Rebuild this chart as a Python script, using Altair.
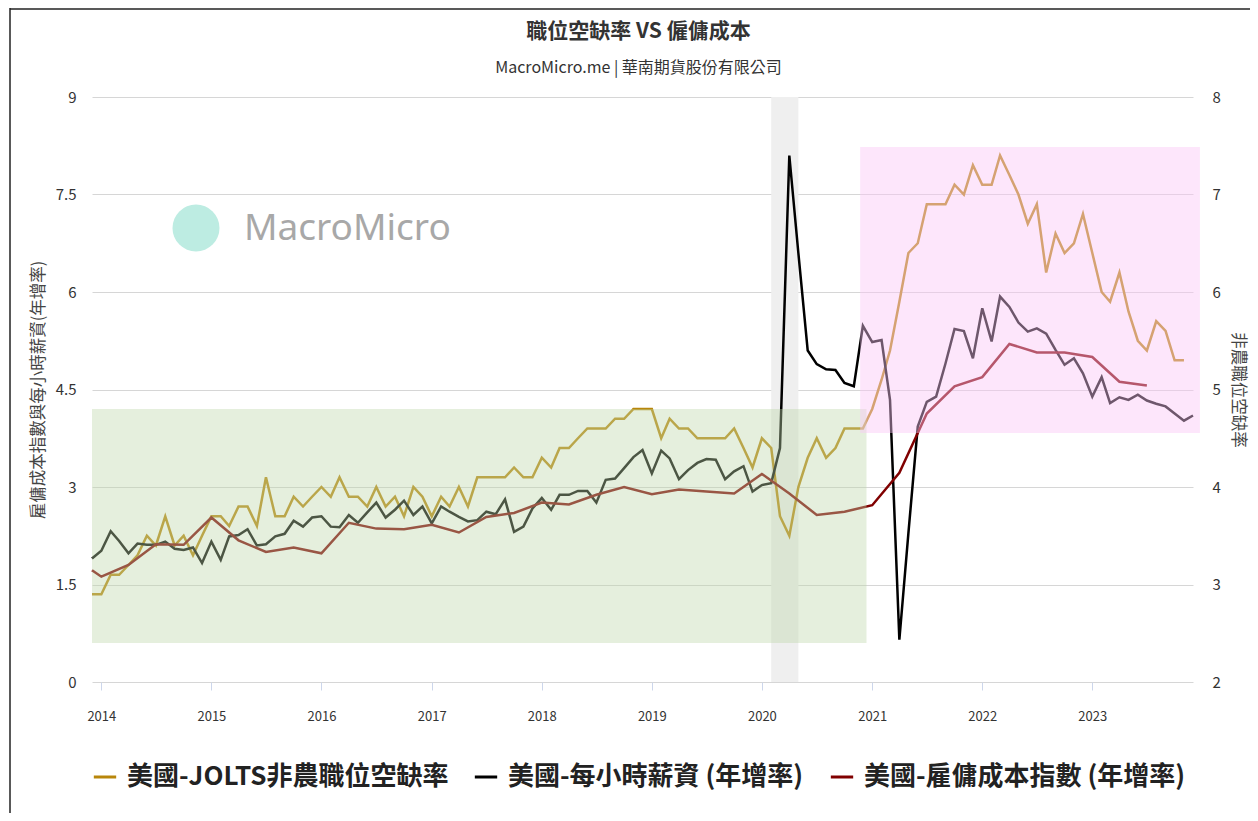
import altair as alt
import pandas as pd

FONT = "Noto Sans CJK TC"

# ---------------- data ----------------
MONTHS = pd.date_range("2013-12-01", periods=121, freq="MS").strftime("%Y-%m-%dT00:00:00").tolist()

# JOLTS job openings rate (right axis), Dec 2013 .. Nov 2023
JOLTS_RATE = [
    2.9, 2.9, 3.1, 3.1, 3.2, 3.3, 3.5, 3.4, 3.7, 3.4, 3.5, 3.3,
    3.5, 3.7, 3.7, 3.6, 3.8, 3.8, 3.6, 4.1, 3.7, 3.7, 3.9, 3.8,
    3.9, 4.0, 3.9, 4.1, 3.9, 3.9, 3.8, 4.0, 3.8, 3.9, 3.7, 4.0,
    3.9, 3.7, 3.9, 3.8, 4.0, 3.8, 4.1, 4.1, 4.1, 4.1, 4.2, 4.1,
    4.1, 4.3, 4.2, 4.4, 4.4, 4.5, 4.6, 4.6, 4.6, 4.7, 4.7, 4.8,
    4.8, 4.8, 4.5, 4.7, 4.6, 4.6, 4.5, 4.5, 4.5, 4.5, 4.6, 4.4,
    4.2, 4.5, 4.4, 3.7, 3.5, 4.0, 4.3, 4.5, 4.3, 4.4, 4.6, 4.6,
    4.6, 4.8, 5.1, 5.4, 5.9, 6.4, 6.5, 6.9, 6.9, 6.9, 7.1, 7.0,
    7.3, 7.1, 7.1, 7.4, 7.2, 7.0, 6.7, 6.9, 6.2, 6.6, 6.4, 6.5,
    6.8, 6.4, 6.0, 5.9, 6.2, 5.8, 5.5, 5.4, 5.7, 5.6, 5.3, 5.3,
]

# Average hourly earnings YoY (left axis), Dec 2013 .. Dec 2023
HOURLY_WAGE_YOY = [
    1.90, 2.02, 2.32, 2.17, 1.98, 2.13, 2.11, 2.11, 2.16, 2.05, 2.03, 2.07,
    1.83, 2.16, 1.88, 2.24, 2.26, 2.35, 2.10, 2.12, 2.24, 2.28, 2.48, 2.39,
    2.53, 2.55, 2.39, 2.38, 2.57, 2.45, 2.61, 2.76, 2.53, 2.65, 2.79, 2.57,
    2.70, 2.44, 2.70, 2.62, 2.54, 2.47, 2.49, 2.62, 2.58, 2.81, 2.31, 2.39,
    2.67, 2.83, 2.65, 2.88, 2.88, 2.94, 2.94, 2.76, 3.11, 3.13, 3.29, 3.46,
    3.57, 3.21, 3.56, 3.44, 3.12, 3.26, 3.37, 3.43, 3.42, 3.12, 3.24, 3.32,
    2.93, 3.03, 3.06, 3.60, 8.10, 6.60, 5.10, 4.89, 4.81, 4.80, 4.60, 4.55,
    5.48, 5.23, 5.26, 4.34, 0.65, 2.29, 3.93, 4.31, 4.39, 4.90, 5.43, 5.40,
    4.98, 5.75, 5.24, 5.93, 5.77, 5.53, 5.39, 5.44, 5.36, 5.11, 4.88, 4.98,
    4.75, 4.39, 4.69, 4.29, 4.38, 4.34, 4.42, 4.33, 4.28, 4.24, 4.13, 4.02,
    4.10,
]

# Employment cost index YoY (left axis), quarterly
ECI_DATES = [
    "2013-12-01", "2014-01-01", "2014-04-01", "2014-07-01", "2014-10-01",
    "2015-01-01", "2015-04-01", "2015-07-01", "2015-10-01",
    "2016-01-01", "2016-04-01", "2016-07-01", "2016-10-01",
    "2017-01-01", "2017-04-01", "2017-07-01", "2017-10-01",
    "2018-01-01", "2018-04-01", "2018-07-01", "2018-10-01",
    "2019-01-01", "2019-04-01", "2019-07-01", "2019-10-01",
    "2020-01-01", "2020-04-01", "2020-07-01", "2020-10-01",
    "2021-01-01", "2021-04-01", "2021-07-01", "2021-10-01",
    "2022-01-01", "2022-04-01", "2022-07-01", "2022-10-01",
    "2023-01-01", "2023-04-01", "2023-07-01",
]
ECI_YOY = [
    1.72, 1.62, 1.80, 2.12, 2.11,
    2.53, 2.18, 2.00, 2.07,
    1.98, 2.45, 2.36, 2.35,
    2.42, 2.30, 2.54, 2.60,
    2.76, 2.73, 2.88, 3.00,
    2.89, 2.96, 2.93, 2.90,
    3.20, 2.90, 2.57, 2.62,
    2.72, 3.22, 4.13, 4.55,
    4.69, 5.20, 5.07, 5.07,
    5.00, 4.62, 4.56,
]

SERIES = ["美國-JOLTS非農職位空缺率", "美國-每小時薪資 (年增率)", "美國-雇傭成本指數 (年增率)"]
COLORS = ["#b8860b", "#000000", "#800000"]

X_TICK_YEARS = list(range(2014, 2024))
LEFT_TICKS = [0, 1.5, 3, 4.5, 6, 7.5, 9]
RIGHT_TICKS = [2, 3, 4, 5, 6, 7, 8]

RECESSION_START = ["2020-02-01T00:00:00"]
RECESSION_END = ["2020-05-01T00:00:00"]

# highlighted zones (left-axis units)
GREEN_ZONE = {"x": ["2013-12-01T00:00:00"], "x2": ["2020-12-13T00:00:00"], "y": [0.6], "y2": [4.2]}
PINK_ZONE = {"x": ["2020-11-22T00:00:00"], "x2": ["2023-12-24T00:00:00"], "y": [3.83], "y2": [8.23]}

# ---------------- frames ----------------
def iso(d):
    return d + "T00:00:00"

jolts_df = pd.DataFrame({"date": MONTHS[:len(JOLTS_RATE)], "value": JOLTS_RATE, "series": SERIES[0]})
wage_df = pd.DataFrame({"date": MONTHS[:len(HOURLY_WAGE_YOY)], "value": HOURLY_WAGE_YOY, "series": SERIES[1]})
eci_df = pd.DataFrame({"date": [iso(d) for d in ECI_DATES], "value": ECI_YOY, "series": SERIES[2]})
left_df = pd.concat([wage_df, eci_df], ignore_index=True)

W, H = 1101, 585
PAD = {"left": 84, "top": 89, "right": 57, "bottom": 131}

XSCALE = alt.Scale(domain=[alt.DateTime(year=2013, month=12, date=1),
                           alt.DateTime(year=2023, month=12, date=1)])
XAXIS = alt.Axis(values=[alt.DateTime(year=y, month=1, date=1) for y in X_TICK_YEARS],
                 format="%Y", title=None, grid=False, domain=False, ticks=True,
                 tickSize=8, tickColor="#ccd6eb", labelFontSize=13, labelPadding=20,
                 labelColor="#333333", labelFont=FONT)

LSCALE = alt.Scale(domain=[0, 9], nice=False, zero=False)
RSCALE = alt.Scale(domain=[2, 8], nice=False, zero=False)

LAXIS = alt.Axis(orient="left", values=LEFT_TICKS, format=".1~f", grid=True, gridColor="#d6d6d6",
                 domain=False, ticks=False, labelPadding=16, labelFontSize=15, labelColor="#333333",
                 labelFont=FONT, title="雇傭成本指數與每小時薪資(年增率)", titleFontSize=16.5,
                 titleFontWeight="normal", titleColor="#444444", titleFont=FONT,
                 titleAngle=270, titleX=-54, titleY=H / 2, titleBaseline="middle", titleAlign="center")
RAXIS = alt.Axis(orient="right", values=RIGHT_TICKS, format="d", grid=False,
                 domain=False, ticks=False, labelPadding=19, labelFontSize=15, labelColor="#333333",
                 labelFont=FONT, title="非農職位空缺率", titleFontSize=16.5,
                 titleFontWeight="normal", titleColor="#444444", titleFont=FONT,
                 titleAngle=90, titleX=44, titleY=H / 2, titleBaseline="middle", titleAlign="center")

COLOR_SCALE = alt.Scale(domain=SERIES, range=COLORS)
LEGEND = alt.Legend(orient="none", legendX=0, legendY=667, direction="horizontal", columns=3,
                    title=None, symbolType="stroke", symbolSize=500, symbolStrokeWidth=3,
                    labelFontSize=26, labelFontWeight="bold", labelColor="#222222", labelFont=FONT,
                    labelLimit=0, labelOffset=9, columnPadding=20, padding=0)

one_row = pd.DataFrame({"k": [0]})


def xenc(field):
    return alt.X(field, type="temporal", scale=XSCALE, axis=XAXIS)


def lyenc(field):
    return alt.Y(field, type="quantitative", scale=LSCALE, axis=LAXIS)


band = alt.Chart(pd.DataFrame({"start": RECESSION_START, "end": RECESSION_END})).mark_rect(
    color="#efefef").encode(
    x=xenc("start"), x2="end:T",
    y=alt.value(0), y2=alt.value(H))

jolts = alt.Chart(jolts_df).mark_line(strokeWidth=2.5).encode(
    x=xenc("date"),
    y=alt.Y("value:Q", scale=RSCALE, axis=RAXIS),
    color=alt.Color("series:N", scale=COLOR_SCALE, legend=LEGEND))

wm_circle = alt.Chart(one_row).mark_point(shape="circle", filled=True, size=2210,
                                          color="#bdece2", opacity=1).encode(
    x=alt.value(104), y=alt.value(131))
wm_text = alt.Chart(one_row).mark_text(align="left", baseline="middle", fontSize=37,
                                       color="#a8a8a8", font="Noto Sans").encode(
    x=alt.value(152), y=alt.value(132), text=alt.value("MacroMicro"))

left_lines = alt.Chart(left_df).mark_line(strokeWidth=2.5).encode(
    x=xenc("date"),
    y=lyenc("value"),
    color=alt.Color("series:N", scale=COLOR_SCALE, legend=LEGEND))

green = alt.Chart(pd.DataFrame(GREEN_ZONE)).mark_rect(color="#bed7aa", opacity=0.4).encode(
    x=xenc("x"), x2="x2:T", y=lyenc("y"), y2="y2:Q")
pink = alt.Chart(pd.DataFrame(PINK_ZONE)).mark_rect(color="#fac6f5", opacity=0.44).encode(
    x=xenc("x"), x2="x2:T", y=lyenc("y"), y2="y2:Q")

frame_left = alt.Chart(one_row).mark_rule(color="#222222", strokeWidth=1.5).encode(
    x=alt.value(-82), y=alt.value(-89), y2=alt.value(H + PAD["bottom"]))
frame_top = alt.Chart(one_row).mark_rule(color="#222222", strokeWidth=1.5).encode(
    x=alt.value(-82), x2=alt.value(W + PAD["right"]), y=alt.value(-88))

right_group = alt.layer(band, jolts)
left_group = alt.layer(wm_circle, wm_text, left_lines, green, pink, frame_left, frame_top)

chart = alt.layer(right_group, left_group).resolve_scale(y="independent").properties(
    width=W, height=H, padding=PAD, autosize=alt.AutoSizeParams(type="none"),
    title=alt.Title(text="職位空缺率 VS 僱傭成本",
                    subtitle="MacroMicro.me | 華南期貨股份有限公司",
                    font=FONT, fontSize=21, fontWeight="bold", color="#333333",
                    subtitleFont=FONT, subtitleFontSize=16, subtitleColor="#333333",
                    anchor="middle", frame="group", offset=18, subtitlePadding=18,
                    dx=-4, dy=87),
).configure(background="white", font=FONT).configure_view(stroke=None)

chart.save("out.html", embed_options={"renderer": "svg", "actions": False})
